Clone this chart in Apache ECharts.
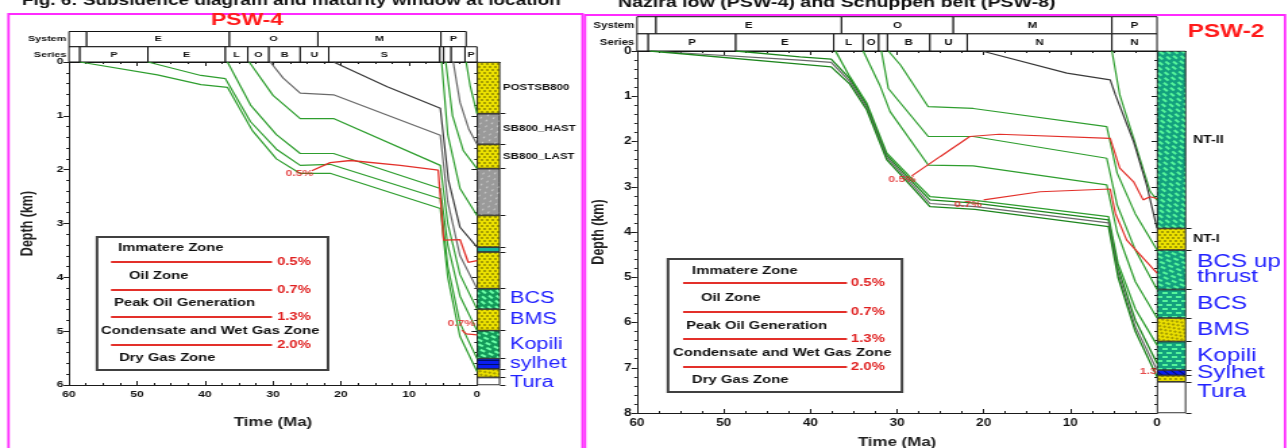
<!DOCTYPE html>
<html><head><meta charset="utf-8">
<script src="https://cdn.jsdelivr.net/npm/echarts@6/dist/echarts.min.js"></script>
<style>
html,body{margin:0;padding:0;background:#fff;overflow:hidden;width:1288px;height:448px;}
#wrap{width:1288px;height:448px;overflow:hidden;position:relative;background:#fff;}
#chart{position:absolute;left:0;top:0;height:448px;transform-origin:0 0;}
</style></head><body><div id="wrap"><div id="chart"></div></div>
<script>
// ================= DATA =================
// Header tables: [label, fromMa, toMa]
const psw4System = [['',60,57.4],['E',57.4,36.4],['O',36.4,23.4],['M',23.4,5.3],['P',5.3,1.6]];
const psw4Series = [['',60,58.4],['P',58.4,48.4],['E',48.4,37],['L',37,33.7],['O',33.7,30.6],['B',30.6,26],['U',26,21.8],['S',21.8,5.45],['',5.45,4.9],['',4.9,3.8],['',3.8,1.76],['P',1.76,0]];
const psw2System = [['',60,57.8],['E',57.8,36.4],['O',36.4,23.5],['M',23.5,5.2],['P',5.2,0]];
const psw2Series = [['',60,58.7],['P',58.7,48.6],['E',48.6,37.3],['L',37.3,33.9],['O',33.9,32.1],['',32.1,31.1],['B',31.1,26.2],['U',26.2,21.9],['N',21.9,5.2],['N',5.2,0]];
const headerRows = ['System','Series'];

// PSW-4 burial curves [time Ma, depth km]
const psw4_y1 = [[1.6,0],[1.0,0.45],[0,0.96]];
const psw4_y2 = [[3.5,0],[2.5,0.75],[1.2,1.25],[0,1.53]];
const psw4_y3 = [[4.6,0],[3.6,1.0],[2.0,1.65],[0,1.98]];
const psw4_y4 = [[5.2,0],[4.3,1.35],[2.5,2.35],[0,2.85]];
const psw4_c1 = [[21.1,0],[13.2,0.46],[5.4,0.86],[4.2,2.2],[2.5,3.07],[0,3.44]];
const psw4_c2 = [[30.4,0],[28.5,0.3],[26,0.58],[21.1,0.61],[5.4,1.36],[4.3,2.6],[2.5,3.6],[0,4.21]];
const psw4_c3 = [[33.5,0],[30,0.62],[26,1.05],[21.1,1.05],[5.4,1.92],[4.3,3.0],[2.5,3.95],[0,4.59]];
const psw4_c4 = [[36.7,0],[33.3,0.8],[29.5,1.35],[26,1.70],[21.1,1.70],[5.4,2.35],[4.3,3.4],[2.5,4.35],[0,4.99]];
const psw4_c5 = [[48.4,0],[40.6,0.25],[37,0.31],[33.3,1.11],[29.5,1.62],[26,1.92],[21.6,1.9],[5.4,2.54],[4.3,3.8],[2.5,4.85],[0,5.51]];
const psw4_c6 = [[58.4,0],[47,0.24],[40.6,0.42],[36.7,0.47],[33,1.28],[29.5,1.8],[26,2.07],[21.5,2.07],[5.4,2.72],[4.3,4.0],[2.5,5.1],[0,5.75]];
const psw4_ro05 = [[24.3,2.02],[21.6,1.87],[18.6,1.83],[11.3,1.92],[5.7,2.01],[4.9,3.31],[2.5,3.30],[1.3,3.72],[0,3.69]];
const psw4_ro07 = [[2.2,4.98],[1.6,5.05],[0,5.07]];
const psw4_roLabelPos = [[26.1,2.07],[2.3,4.86]];
const psw4_roLabelText = ['0.5%','0.7%'];

// PSW-2 burial curves
const psw2_y1 = [[5.2,0],[4.3,0.97],[2.7,1.93],[0.8,3.1],[0,3.3]];
const psw2_c1 = [[20.2,0],[10.4,0.49],[5.4,0.64],[4.8,0.97],[2.7,2.0],[1.2,2.96],[0,3.92]];
const psw2_c2 = [[31.0,0],[29.6,0.31],[26.4,1.23],[21.2,1.27],[5.8,1.67],[4.6,2.7],[2.5,3.6],[0,4.4]];
const psw2_c3 = [[31.8,0],[31,0.83],[26.4,1.89],[21.2,1.89],[5.8,2.37],[4.6,3.4],[2.5,4.4],[0,5.27]];
const psw2_c4 = [[33.9,0],[32,0.75],[30.8,1.34],[26.4,2.52],[21.2,2.54],[5.8,2.96],[4.6,4.0],[2.5,5.1],[0,5.9]];
const psw2_b0 = [[37.1,0],[35.5,0.55],[33.5,1.15],[31.2,2.25],[28.5,2.78],[26.2,3.22],[21,3.3],[5.6,3.66],[4.5,4.7],[2.5,5.7],[0,6.5]];
const psw2_b1 = [[48.6,0],[41.2,0.13],[37.6,0.18],[35.5,0.6],[33.5,1.2],[31.2,2.3],[28.5,2.84],[26.2,3.29],[21,3.36],[5.6,3.73],[4.5,4.8],[2.5,5.95],[0,6.9]];
const psw2_b2 = [[58.5,0],[41.2,0.2],[37.6,0.25],[35.5,0.66],[33.5,1.25],[31.2,2.35],[28.5,2.9],[26.2,3.37],[21,3.44],[5.6,3.80],[4.5,4.9],[2.5,6.1],[0,7.05]];
const psw2_b3 = [[58.5,0],[41.2,0.29],[37.6,0.35],[35.5,0.72],[33.5,1.3],[31.2,2.4],[28.5,2.96],[26.2,3.44],[21,3.5],[5.6,3.88],[4.5,5.0],[2.5,6.2],[0,7.2]];
const psw2_ro05 = [[28.3,2.76],[25,2.33],[21.6,1.89],[18.2,1.84],[5.4,1.93],[4.3,2.59],[2.7,2.89],[1.6,3.29],[0.8,3.22],[0,3.26]];
const psw2_ro07 = [[20,3.29],[13.5,3.11],[5.4,3.05],[4.8,3.59],[3.5,4.18],[0,4.91]];
const psw2_roLabelPos = [[29.4,2.85],[21.8,3.40],[1.0,7.09]];
const psw2_roLabelText = ['0.5%','0.7%','1.3'];

// Stratigraphic columns (base depth km)
const colL_names = ['POSTSB800','SB800_HAST','SB800_LAST','','','','','BCS','BMS','Kopili','sylhet','Tura',''];
const colL_base  = [0.96,1.53,1.98,2.85,3.44,3.53,4.21,4.59,4.99,5.51,5.70,5.86,6.0];
const colL_litho = ['sand','gray','sand','gray','sand','teal','sand','shaleL','sand','shaleL','coal','sand','blank'];
const colL_tag   = ['unit','unit','unit','','','','','fm','fm','fm','fm','fm',''];
const colR_names = ['NT-II','NT-I','BCS up\nthrust','BCS','BMS','Kopili','Sylhet','Tura',''];
const colR_base  = [3.92,4.40,5.27,5.90,6.42,7.05,7.17,7.31,8.0];
const colR_litho = ['shale','sand','shale','shale','sand','shale','coal','sand','blank'];
const colR_tag   = ['unit','unit','fm','fm','fm','fm','fm','fm',''];

// Legend texts
const legendZones = ['Immatere Zone','Oil Zone','Peak Oil Generation','Condensate and Wet Gas Zone','Dry Gas Zone'];
const legendRo = ['0.5%','0.7%','1.3%','2.0%'];

// ================= LAYOUT / STYLE =================
const S = 1.35;               // horizontal stretch of the whole figure
const px = v => v / S;
const el = document.getElementById('chart');
el.style.width = (1288 / S) + 'px';
el.style.transform = 'scaleX(' + S + ')';
const chart = echarts.init(el, null, {renderer: 'canvas'});

const FONT = '"Liberation Sans", Arial, sans-serif';
const AX = '#1a1a1a';
const GREEN = '#2e9e2e', GREEN_D = '#1d861d', GRAY = '#6a6a6a', DARK = '#3a3a3a', RED = '#e3302a', BLUE = '#2020ff';

const LITHO = {
  sand:  {color:'#ebe000', decal:{symbol:'circle', symbolSize:0.9, color:'rgba(90,85,0,0.7)', dashArrayX:[[2,2],[0,2,2,0]], dashArrayY:[2,1]}},
  gray:  {color:'#9a9a9a', decal:{symbol:'rect', symbolSize:0.8, color:'rgba(255,255,255,0.8)', dashArrayX:[[1,4],[0,3,1,1]], dashArrayY:[2,3], rotation:0.6}},
  shale: {color:'#13a07e', decal:{symbol:'rect', symbolSize:1, color:'#55f59a', dashArrayX:[[4,3],[0,3,4,0]], dashArrayY:[2,2]}},
  shaleL:{color:'#139a5a', decal:{symbol:'rect', symbolSize:1, color:'#6dffa8', dashArrayX:[[4,3],[0,3,4,0]], dashArrayY:[2,2]}},
  coal:  {color:'#0a1df0', decal:{symbol:'rect', symbolSize:1, color:'#00106a', dashArrayX:[1,0], dashArrayY:[1,3]}},
  teal:  {color:'#16b09a', decal:{symbol:'rect', symbolSize:1, color:'rgba(0,0,0,0)', dashArrayX:[1,0], dashArrayY:[1,3]}},
  blank: {color:'#ffffff', decal:{symbol:'rect', symbolSize:1, color:'rgba(0,0,0,0)', dashArrayX:[1,0], dashArrayY:[1,3]}}
};
const LABEL_L = {
  unit:{color:'#111', fontSize:8.5, fontWeight:'bold', fontFamily:FONT, distance:px(3)},
  fm:  {color:BLUE, fontSize:16, fontFamily:FONT, distance:px(10), lineHeight:15}
};
const LABEL_R = {
  unit:{color:'#111', fontSize:10.5, fontWeight:'bold', fontFamily:FONT, distance:px(7)},
  fm:  {color:BLUE, fontSize:18, fontFamily:FONT, distance:px(11), lineHeight:15}
};

function xTime(grid, position, showLabels, labelSize, name, nameGap) {
  return {
    type:'value', gridIndex:grid, position, inverse:true, min:0, max:60, interval:10,
    axisLine:{show:true, onZero:false, lineStyle:{color:AX, width:1}},
    axisTick:{show:true, inside:true, length:4, lineStyle:{color:AX}},
    minorTick:{show:true, splitNumber:4, length:2, lineStyle:{color:AX}},
    axisLabel:{show:showLabels, color:'#111', fontWeight:'bold', fontSize:labelSize, fontFamily:FONT, margin:5},
    splitLine:{show:false},
    name: name || '', nameLocation:'middle', nameGap: nameGap || 0,
    nameTextStyle:{fontFamily:FONT, fontSize:12.5, fontWeight:'bold', color:'#222'}
  };
}
function yDepth(grid, position, max, showLabels, labelSize, name, nameGap) {
  return {
    type:'value', gridIndex:grid, position, inverse:true, min:0, max, interval:1,
    axisLine:{show:true, onZero:false, lineStyle:{color:AX, width:1}},
    axisTick:{show:true, inside:!showLabels, length:4, lineStyle:{color:AX}},
    minorTick:{show:true, splitNumber:5, length:2, lineStyle:{color:AX}},
    axisLabel:{show:showLabels, color:'#111', fontWeight:'bold', fontSize:labelSize, fontFamily:FONT, margin:4},
    splitLine:{show:false},
    name: name || '', nameLocation:'middle', nameGap: nameGap || 0, nameRotate:90,
    nameTextStyle:{fontFamily:FONT, fontSize:12.5, fontWeight:'bold', color:'#222'}
  };
}
function xHidden(grid) { return {type:'value', gridIndex:grid, inverse:true, min:0, max:60, show:false}; }
function yHeader(grid, size) {
  return {type:'category', gridIndex:grid, inverse:true, data:headerRows,
    axisLine:{show:false}, axisTick:{show:false},
    axisLabel:{color:'#111', fontWeight:'bold', fontSize:size, fontFamily:FONT, margin:2}};
}
function xColumn(grid) {
  return {type:'category', gridIndex:grid, data:[''], axisLine:{show:true, lineStyle:{color:AX}},
    axisTick:{show:false}, axisLabel:{show:false}};
}
function yColumn(grid, max, bases) {
  return {type:'value', gridIndex:grid, position:'right', inverse:true, min:0, max,
    axisLine:{show:false}, axisLabel:{show:false}, splitLine:{show:false},
    axisTick:{show:true, customValues:bases, length:4, lineStyle:{color:AX}}};
}

function headerSeries(rows, xi, yi, fsize) {
  const data = [], labels = [];
  rows.forEach((arr, r) => arr.forEach(c => { data.push([c[1], c[2], r]); labels.push(c[0]); }));
  return {
    type:'custom', xAxisIndex:xi, yAxisIndex:yi, data, silent:true, animation:false,
    encode:{x:[0,1], y:2},
    renderItem(params, api) {
      const r = api.value(2);
      const a = api.coord([api.value(0), r]);
      const b = api.coord([api.value(1), r]);
      const h = api.size([0, 1])[1];
      const x = Math.min(a[0], b[0]), w = Math.abs(b[0] - a[0]);
      return {type:'group', children:[
        {type:'rect', shape:{x, y:a[1] - h / 2, width:w, height:h}, style:{fill:'#fff', stroke:'#111', lineWidth:1}},
        {type:'text', style:{text:labels[params.dataIndex], x:x + w / 2, y:a[1], align:'center', verticalAlign:'middle', font:'bold ' + fsize + 'px ' + FONT, fill:'#111'}}
      ]};
    }
  };
}
function lineSeries(data, color, xi, yi, width) {
  return {type:'line', data, xAxisIndex:xi, yAxisIndex:yi, showSymbol:false, symbol:'none',
    lineStyle:{color, width: width || 1.2}, silent:true, animation:false, z:3};
}
function roLabels(pos, texts, xi, yi) {
  return {type:'scatter', data:pos, xAxisIndex:xi, yAxisIndex:yi, symbolSize:0, silent:true, animation:false, z:6,
    label:{show:true, position:'inside', formatter: p => texts[p.dataIndex], color:'#e02020', fontWeight:'bold', fontSize:9, fontFamily:FONT}};
}
function columnSeries(names, bases, lithos, tags, xi, yi, stackId, styles, turaOffset) {
  return names.map((nm, i) => {
    const top = i === 0 ? 0 : bases[i - 1];
    const L = LITHO[lithos[i]];
    const st = tags[i] ? styles[tags[i]] : null;
    const label = st ? Object.assign({show:true, position:'right', formatter:nm}, st,
      nm === 'Tura' ? {offset:[0, turaOffset]} : {}) : {show:false};
    return {type:'bar', name: stackId + i, stack:stackId, xAxisIndex:xi, yAxisIndex:yi,
      data:[+(bases[i] - top).toFixed(3)], barWidth:'100%', silent:true, animation:false,
      itemStyle:{color:L.color, decal:L.decal, borderColor:'#2a2a2a', borderWidth:0.6}, label};
  });
}

function legendBox(box, zoneX, zoneY, lineX, lineY, roX) {
  const g = [];
  g.push({type:'rect', z:10, shape:{x:px(box[0]), y:box[1], width:px(box[2]), height:box[3]},
    style:{fill:'#fff', stroke:'#404040', lineWidth:2}});
  legendZones.forEach((t, i) => g.push({type:'text', z:11, x:px(zoneX[i]), y:zoneY[i],
    style:{text:t, font:'bold 11px ' + FONT, fill:'#111', verticalAlign:'middle'}}));
  legendRo.forEach((t, i) => {
    g.push({type:'line', z:11, shape:{x1:px(lineX[0]), y1:lineY[i], x2:px(lineX[1]), y2:lineY[i]},
      style:{stroke:RED, lineWidth:2}});
    g.push({type:'text', z:11, x:px(roX), y:lineY[i],
      style:{text:t, font:'bold 11px ' + FONT, fill:'#e02020', verticalAlign:'middle'}});
  });
  return g;
}

const graphics = [].concat(
  [
    {type:'polyline', shape:{points:[[px(8.5),448],[px(8.5),14],[px(582.5),14],[px(582.5),448]]}, style:{stroke:'#ff2bff', lineWidth:1.8, fill:'none'}},
    {type:'polyline', shape:{points:[[px(585),448],[px(585),15],[px(1285),15],[px(1285),448]]}, style:{stroke:'#ff2bff', lineWidth:1.8, fill:'none'}},
    {type:'text', x:px(22), y:8, style:{text:'Fig. 6: Subsidence diagram and maturity window at location', font:'bold 14px ' + FONT, fill:'#111', verticalAlign:'bottom'}},
    {type:'text', x:px(618), y:10.5, style:{text:'Nazira low (PSW-4) and Schuppen belt (PSW-8)', font:'bold 14.5px ' + FONT, fill:'#111', verticalAlign:'bottom'}},
    {type:'text', x:px(247), y:20, style:{text:'PSW-4', font:'bold 17px ' + FONT, fill:'#ff1a1a', align:'center', verticalAlign:'middle'}},
    {type:'text', x:px(1226), y:32.5, style:{text:'PSW-2', font:'bold 18px ' + FONT, fill:'#ff1a1a', align:'center', verticalAlign:'middle'}}
  ],
  legendBox([97,237,231,133],[118,129,114,101,119],[248,276,303,331,358],[111,272],[262,290,317,345],277),
  legendBox([668,259,234,133],[692,701,686,673,692],[271,298,326,353,380],[683,847],[283,312,339,367],851)
);

const option = {
  backgroundColor:'#fff',
  animation:false,
  aria:{enabled:true, decal:{show:true}},
  textStyle:{fontFamily:FONT},
  grid:[
    {left:px(69),  top:31.5, width:px(408), height:30.5, outerBoundsMode:'none'},
    {left:px(69),  top:62,   width:px(408), height:323,  outerBoundsMode:'none'},
    {left:px(477), top:62,   width:px(23),  height:323,  outerBoundsMode:'none'},
    {left:px(637), top:16.7, width:px(520), height:34.3, outerBoundsMode:'none'},
    {left:px(637), top:51,   width:px(520), height:362,  outerBoundsMode:'none'},
    {left:px(1157),top:51,   width:px(29),  height:362,  outerBoundsMode:'none'}
  ],
  xAxis:[
    xHidden(0),
    xTime(1,'bottom',true,9,'Time (Ma)',31),
    xTime(1,'top',false,9),
    xColumn(2),
    xHidden(3),
    xTime(4,'bottom',true,10,'Time (Ma)',23),
    xTime(4,'top',false,10),
    xColumn(5)
  ],
  yAxis:[
    yHeader(0,8),
    yDepth(1,'left',6,true,9,'Depth (km)',24),
    yDepth(1,'right',6,false,9),
    yColumn(2,6,colL_base),
    yHeader(3,8.5),
    yDepth(4,'left',8,true,10,'Depth (km)',22),
    yDepth(4,'right',8,false,10),
    yColumn(5,8,colR_base)
  ],
  graphic:graphics,
  series:[].concat(
    [headerSeries([psw4System, psw4Series],0,0,8), headerSeries([psw2System, psw2Series],4,4,8.5)],
    [
      lineSeries(psw4_y1,GREEN,1,1), lineSeries(psw4_y2,GRAY,1,1), lineSeries(psw4_y3,GREEN,1,1), lineSeries(psw4_y4,GREEN,1,1),
      lineSeries(psw4_c1,DARK,1,1), lineSeries(psw4_c2,GRAY,1,1), lineSeries(psw4_c3,GREEN,1,1),
      lineSeries(psw4_c4,GREEN,1,1), lineSeries(psw4_c5,GREEN,1,1), lineSeries(psw4_c6,GREEN,1,1),
      lineSeries(psw4_ro05,RED,1,1,1.3), lineSeries(psw4_ro07,RED,1,1,1.3),
      roLabels(psw4_roLabelPos, psw4_roLabelText,1,1),
      lineSeries(psw2_y1,GREEN,5,5), lineSeries(psw2_c1,DARK,5,5), lineSeries(psw2_c2,GREEN,5,5),
      lineSeries(psw2_c3,GREEN,5,5), lineSeries(psw2_c4,GREEN,5,5),
      lineSeries(psw2_b0,GREEN,5,5,1.3), lineSeries(psw2_b1,GREEN_D,5,5,1.3), lineSeries(psw2_b2,GRAY,5,5,1.2), lineSeries(psw2_b3,GREEN_D,5,5,1.3),
      lineSeries(psw2_ro05,RED,5,5,1.2), lineSeries(psw2_ro07,RED,5,5,1.2),
      roLabels(psw2_roLabelPos, psw2_roLabelText,5,5)
    ],
    columnSeries(colL_names, colL_base, colL_litho, colL_tag, 3, 3, 'colL', LABEL_L, 9),
    columnSeries(colR_names, colR_base, colR_litho, colR_tag, 7, 7, 'colR', LABEL_R, 13)
  )
};
chart.setOption(option);
</script></body></html>
